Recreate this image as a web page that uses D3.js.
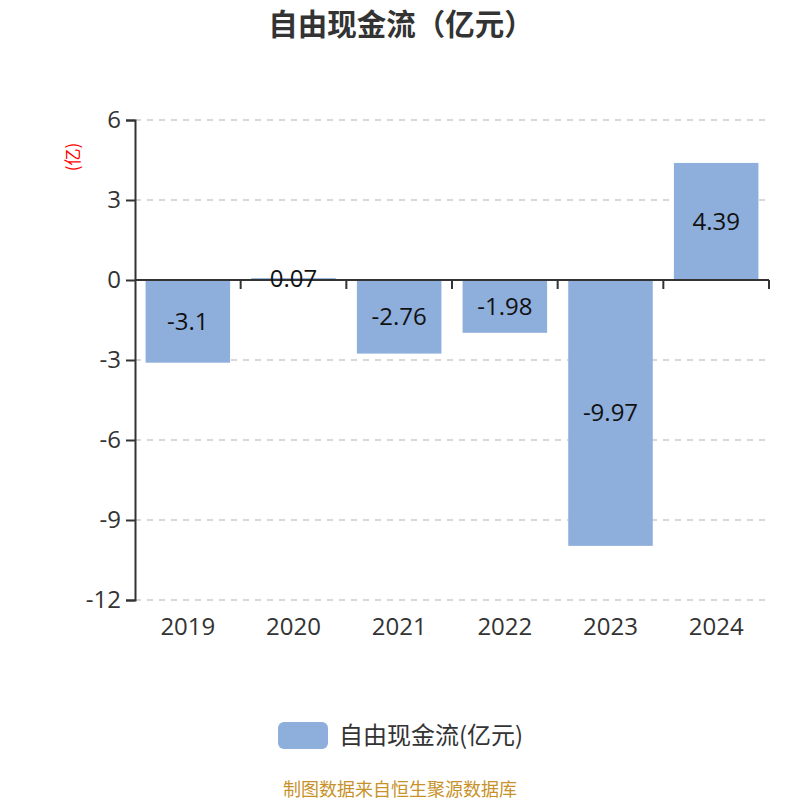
<!DOCTYPE html>
<html>
<head>
<meta charset="utf-8">
<script src="https://cdn.jsdelivr.net/npm/d3@7"></script>
<style>
  body { margin: 0; background: #fff; }
  svg { font-family: "Noto Sans CJK SC", "Noto Sans", sans-serif; }
  .num { font-family: "Open Sans", "Noto Sans", sans-serif; }
</style>
</head>
<body>
<svg id="chart"></svg>
<script>
const years = ['2019', '2020', '2021', '2022', '2023', '2024'];
const freeCashFlow = [-3.1, 0.07, -2.76, -1.98, -9.97, 4.39];
const yTicks = [6, 3, 0, -3, -6, -9, -12];

const width = 800;
const height = 800;
const margin = { top: 120, right: 31, bottom: 200, left: 135 };
const barColor = '#8eaedb';

const svg = d3.select('#chart')
    .attr('width', width)
    .attr('height', height);

const x = d3.scaleBand()
    .domain(years)
    .range([margin.left, width - margin.right])
    .paddingInner(0.2)
    .paddingOuter(0.1);

const y = d3.scaleLinear()
    .domain([-12, 6])
    .range([height - margin.bottom, margin.top]);

// title
svg.append('text')
    .attr('x', 401)
    .attr('y', 35)
    .attr('text-anchor', 'middle')
    .attr('font-size', 29.5)
    .attr('font-weight', 'bold')
    .attr('fill', '#333')
    .text('自由现金流（亿元）');

// grid lines
svg.append('g')
    .selectAll('line')
    .data(yTicks.filter(d => d !== 0))
    .enter().append('line')
    .attr('x1', margin.left)
    .attr('x2', width - margin.right)
    .attr('y1', d => y(d))
    .attr('y2', d => y(d))
    .attr('stroke', '#ccc')
    .attr('stroke-width', 1.5)
    .attr('stroke-dasharray', '6,6');

// bars
svg.append('g')
    .selectAll('rect')
    .data(freeCashFlow)
    .enter().append('rect')
    .attr('x', (d, i) => x(years[i]))
    .attr('width', x.bandwidth())
    .attr('y', d => y(Math.max(0, d)))
    .attr('height', d => Math.abs(y(d) - y(0)))
    .attr('fill', barColor);

// y axis
const yAxis = svg.append('g')
    .attr('transform', `translate(${margin.left},0)`)
    .call(d3.axisLeft(y).tickValues(yTicks).tickFormat(d => String(d)).tickSize(9).tickPadding(5));
yAxis.select('.domain').attr('stroke', '#333').attr('stroke-width', 2);
yAxis.selectAll('.tick line').attr('stroke', '#333').attr('stroke-width', 2);
yAxis.selectAll('.tick text')
    .attr('class', 'num')
    .attr('font-size', 24)
    .attr('fill', '#333')
    .attr('font-family', null);

// x axis at zero, ticks on band boundaries
const xAxisG = svg.append('g');
xAxisG.append('line')
    .attr('x1', margin.left)
    .attr('x2', width - margin.right)
    .attr('y1', y(0))
    .attr('y2', y(0))
    .attr('stroke', '#333')
    .attr('stroke-width', 2);
xAxisG.selectAll('line.tick')
    .data(years)
    .enter().append('line')
    .attr('class', 'tick')
    .attr('x1', d => x(d) + x.bandwidth() + x.step() * 0.1)
    .attr('x2', d => x(d) + x.bandwidth() + x.step() * 0.1)
    .attr('y1', y(0))
    .attr('y2', y(0) + 9)
    .attr('stroke', '#333')
    .attr('stroke-width', 2);

// x labels at bottom
svg.append('g')
    .selectAll('text')
    .data(years)
    .enter().append('text')
    .attr('class', 'num')
    .attr('x', d => x(d) + x.bandwidth() / 2)
    .attr('y', y(-12) + 35)
    .attr('text-anchor', 'middle')
    .attr('font-size', 24)
    .attr('fill', '#333')
    .text(d => d);

// value labels
svg.append('g')
    .selectAll('text')
    .data(freeCashFlow)
    .enter().append('text')
    .attr('class', 'num')
    .attr('x', (d, i) => x(years[i]) + x.bandwidth() / 2)
    .attr('y', d => (y(d) + y(0)) / 2)
    .attr('dy', '0.35em')
    .attr('text-anchor', 'middle')
    .attr('font-size', 24)
    .attr('fill', '#111')
    .text(d => String(d));

// y unit label
svg.append('text')
    .attr('transform', 'translate(79,157) rotate(-90)')
    .attr('text-anchor', 'middle')
    .attr('font-size', 17)
    .attr('fill', 'red')
    .text('(亿)');

// legend
svg.append('rect')
    .attr('x', 278)
    .attr('y', 722)
    .attr('width', 50)
    .attr('height', 27)
    .attr('rx', 6)
    .attr('fill', barColor);
svg.append('text')
    .attr('x', 339)
    .attr('y', 736)
    .attr('dy', '0.35em')
    .attr('font-size', 24)
    .attr('fill', '#333')
    .text('自由现金流(亿元)');

// source note
svg.append('text')
    .attr('x', 400)
    .attr('y', 796)
    .attr('text-anchor', 'middle')
    .attr('font-size', 18)
    .attr('fill', '#c8922a')
    .text('制图数据来自恒生聚源数据库');
</script>
</body>
</html>
